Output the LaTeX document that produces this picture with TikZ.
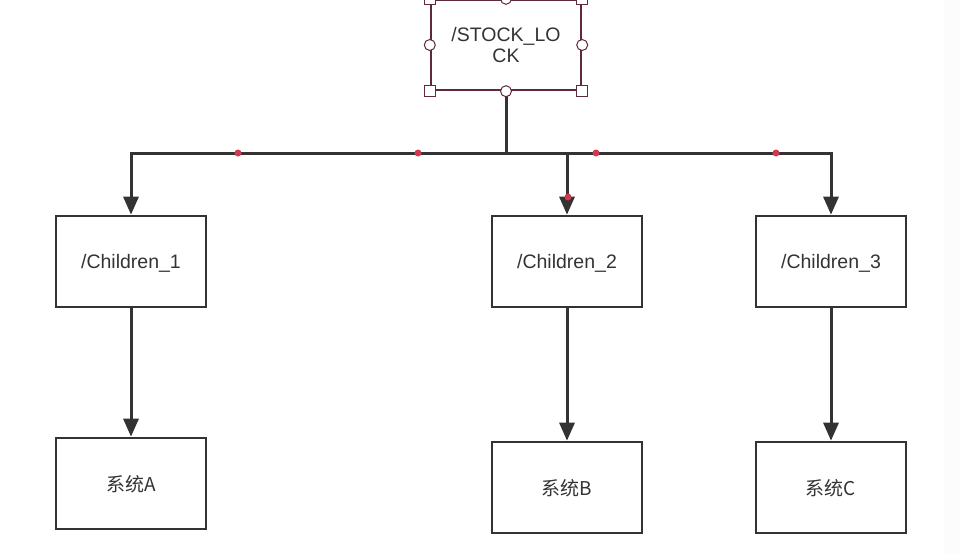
\documentclass[tikz,border=0pt]{standalone}
\usepackage{fontspec}
\setmainfont{Liberation Sans}
\newfontfamily\cjk{Noto Sans CJK SC}
\usepackage{tikz}
\usetikzlibrary{arrows.meta}
\definecolor{ink}{HTML}{333333}
\definecolor{selc}{HTML}{5E2A38}
\definecolor{dotc}{HTML}{D2384E}
\tikzset{box/.style={rectangle,draw=ink,line width=2.6pt,minimum width=150pt,minimum height=91pt,inner sep=0pt,text=ink,text depth=0pt,font=\fontsize{19.5}{21}\selectfont},
  cbox/.style={box,font=\cjk\fontsize{19}{21}\selectfont},
  lockbox/.style={box,draw=selc,line width=2.4pt,minimum height=90pt,align=center},
  sqh/.style={rectangle,draw=selc,fill=white,line width=1pt,minimum size=11pt,inner sep=0pt},
  cih/.style={circle,draw=selc,fill=white,line width=1pt,minimum size=11pt,inner sep=0pt},
  wire/.style={draw=ink,line width=3pt},
  rdot/.style={circle,fill=dotc,minimum size=7pt,inner sep=0pt}}

\begin{document}
\begin{tikzpicture}[x=1pt,y=-1pt,>={Triangle[width=15pt,length=18pt]}]
        \useasboundingbox (0,0) rectangle (960,554);
        \fill[gray!2] (944,0) rectangle (960,554);

        \node[box] (c1) at (131,261.5) {/Children\_1};
        \node[box] (c2) at (567,261.5) {/Children\_2};
        \node[box] (c3) at (831,261.5) {/Children\_3};
        \node[cbox] (sa) at (131,483.5) {系统A};
        \node[cbox] (sb) at (567,487.5) {系统B};
        \node[cbox] (sc) at (831,487.5) {系统C};
        \coordinate (bus) at (506,153);

        \draw[wire] (506,90) -- (bus);
        \draw[wire,->] (bus) -| (c1.north);
        \draw[wire,->] (bus) -| (c2.north);
        \draw[wire,->] (bus) -| (c3.north);
        \draw[wire,->] (c1) -- (sa);
        \draw[wire,->] (c2) -- (sb);
        \draw[wire,->] (c3) -- (sc);

        \node[rdot] at (238,153) {};
        \node[rdot] at (418,153) {};
        \node[rdot] at (596,153) {};
        \node[rdot] at (776,153) {};
        \node[rdot] at (568,197) {};

        \node[lockbox,fill=white] (lock) at (506,45) {/STOCK\_LO\\CK};
        \node[sqh] at (lock.north west) {};
        \node[sqh] at (lock.north east) {};
        \node[sqh] at (lock.south west) {};
        \node[sqh] at (lock.south east) {};
        \node[cih] at (lock.north) {};
        \node[cih] at (lock.west) {};
        \node[cih] at (lock.east) {};
        \node[cih] at (lock.south) {};
    \end{tikzpicture}
\end{document}
